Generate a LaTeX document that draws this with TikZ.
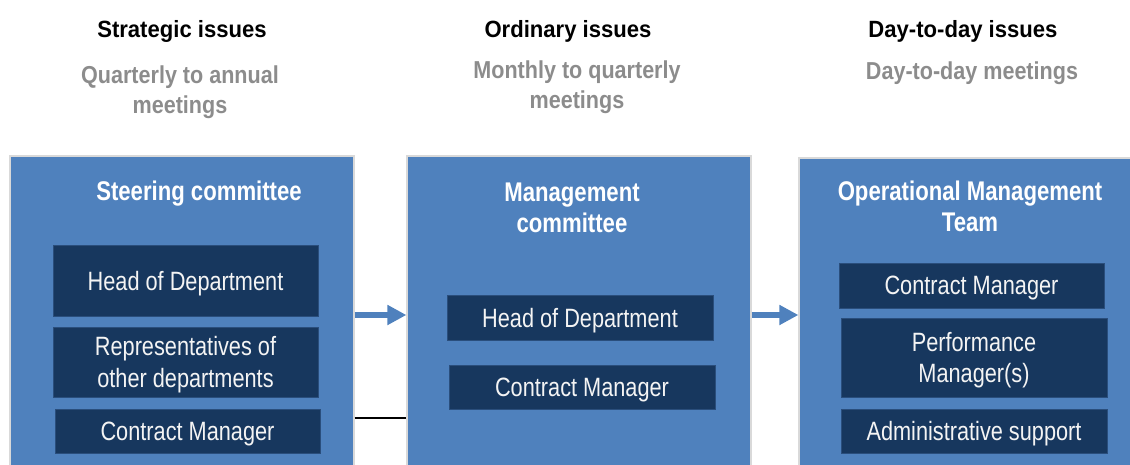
\documentclass[tikz,border=0pt]{standalone}
\usepackage{fontspec}
\setmainfont{Liberation Sans}
\newfontfamily\condfont[FakeStretch=0.82]{Liberation Sans}
\newfontfamily\subfont[FakeStretch=0.88]{Liberation Sans}
\newfontfamily\headfont[FakeStretch=0.94]{Liberation Sans}
\usetikzlibrary{arrows.meta}

\definecolor{panelblue}{HTML}{4F81BD}
\definecolor{navy}{HTML}{17375E}
\definecolor{navyedge}{HTML}{2A4E7C}
\definecolor{subgray}{HTML}{8C8C8C}
\definecolor{panelrim}{HTML}{D9D9D9}
\definecolor{boxtext}{HTML}{F4F4F4}

\tikzset{
  panel/.style={fill=panelblue, draw=panelrim, line width=1.2pt, inner sep=0pt,
    minimum width=344pt, minimum height=318pt},
  ptitle/.style={text=white, font=\condfont\bfseries\fontsize{27}{31}\selectfont,
    align=center, inner sep=0pt},
  member/.style={fill=navy, draw=navyedge, line width=0.8pt, text=boxtext,
    font=\condfont\fontsize{26.5}{31.5}\selectfont, align=center,
    inner sep=0pt, text depth=0pt, minimum width=265pt},
  head/.style={text=black, font=\headfont\bfseries\fontsize{23.5}{26}\selectfont, inner sep=0pt},
  sub/.style={text=subgray, font=\subfont\bfseries\fontsize{24.5}{30}\selectfont,
    align=center, inner sep=0pt, text depth=0pt},
  flow/.style={draw=panelblue, line width=6pt,
    -{Triangle[width=19pt, length=19pt]}},
  tie/.style={draw=black, line width=1.5pt}
}

\begin{document}
\begin{tikzpicture}[x=1pt, y=-1pt]
\useasboundingbox (0,0) rectangle (1130,465);

% column headings
\node[head, anchor=base] (s1) at (182,38) {Strategic issues};
\node[sub, anchor=south] (q1) at (180,114) {Quarterly to annual\\meetings};
\node[head, anchor=base] (s2) at (568,38) {Ordinary issues};
\node[sub, anchor=south] (q2) at (577,109) {Monthly to quarterly\\meetings};
\node[head, anchor=base] (s3) at (963,38) {Day-to-day issues};
\node[sub, anchor=base] (q3) at (972,80) {Day-to-day meetings};

% committee panels
\node[panel] (p1) at (182,315) {};
\node[panel] (p2) at (579,315) {};
\node[panel, minimum width=341pt, minimum height=314pt] (p3) at (969.5,315) {};

% links between panels
\draw[flow] (p1.east) -- (p2.west);
\draw[flow] (p2.east) -- (p3.west);
\coordinate (tiept) at (380,418);
\draw[tie] (p1.east |- tiept) -- (p2.west |- tiept);

% panel titles
\node[ptitle, anchor=base] (t1) at (199,201) {Steering committee};
\node[ptitle, anchor=south, text depth=0pt] (t2) at (572,233) {Management\\committee};
\node[ptitle, anchor=south, text depth=0pt] (t3) at (970,232) {Operational Management\\Team};

% steering committee members
\node[member, minimum height=71pt] (h1) at (185.5,280.5) {Head of Department};
\node[member, minimum height=70pt] (r1) at (185.5,362) {Representatives of\\other departments};
\node[member, minimum height=44pt] (c1) at (187.5,431) {Contract Manager};

% management committee members
\node[member, minimum width=266pt, minimum height=45pt] (h2) at (580,317.5) {Head of Department};
\node[member, minimum width=266pt, minimum height=44pt] (c2) at (582,387) {Contract Manager};

% operational team members
\node[member, minimum height=45pt] (c3) at (971.5,285.5) {Contract Manager};
\node[member, minimum width=266pt, minimum height=79pt] (pm3) at (974,357.5) {Performance\\Manager(s)};
\node[member, minimum width=266pt, minimum height=44pt] (a3) at (974,431) {Administrative support};
\end{tikzpicture}
\end{document}
